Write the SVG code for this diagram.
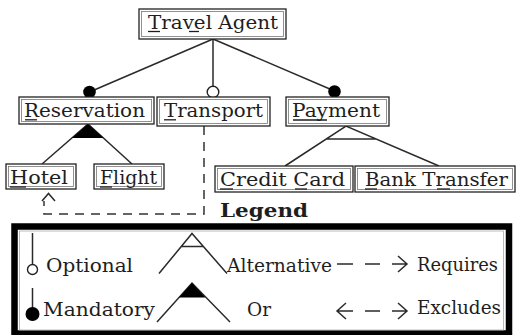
<svg xmlns="http://www.w3.org/2000/svg" width="516" height="335" viewBox="0 0 516 335">
<style>
text{font-family:"DejaVu Serif","Liberation Serif",serif;font-size:19px;fill:#1e1e1e}
.bo{fill:#fff;stroke:#222;stroke-width:1.3}
.bi{fill:none;stroke:#777;stroke-width:0.8}
.ul{stroke:#1e1e1e;stroke-width:1.3}
.ln{stroke:#2a2a2a;stroke-width:1.5;fill:none}
.dash{stroke:#333;stroke-width:1.5;fill:none;stroke-dasharray:9,7}
.blk{fill:#000}
</style>
<rect width="516" height="335" fill="#fff"/>
<g id="connectors">
<line class="ln" x1="213" y1="39" x2="89.5" y2="92"/>
<line class="ln" x1="213" y1="39" x2="213" y2="86"/>
<line class="ln" x1="213" y1="39" x2="334.5" y2="91"/>
<circle cx="89.5" cy="92" r="6.3" class="blk"/>
<circle cx="213" cy="92" r="5.8" fill="#fff" stroke="#222" stroke-width="1.4"/>
<circle cx="334.5" cy="91.5" r="6.3" class="blk"/>
<path class="ln" d="M42,164 L88,124 L132,164"/>
<polygon class="blk" points="88,124 72,138 103.5,138"/>
<path class="ln" d="M285,166 L346,126 L439,166 M326,139 H376"/>
<path class="dash" d="M204,126 V214 H44 V201"/>
<path class="ln" d="M42,201 L48.5,193.5 L55,201"/>
</g>
<g id="travel-agent">
<rect class="bo" x="139" y="9" width="147" height="30"/>
<rect class="bi" x="141.5" y="11.5" width="142" height="25"/>
<text x="148" y="29" textLength="130" lengthAdjust="spacingAndGlyphs">Travel Agent</text>
<line class="ul" x1="148" y1="31.5" x2="160" y2="31.5"/>
<line class="ul" x1="189" y1="31.5" x2="199" y2="31.5"/>
</g>
<g id="reservation">
<rect class="bo" x="19" y="97" width="135" height="27"/>
<rect class="bi" x="21.5" y="99.5" width="130" height="22"/>
<text x="24" y="117" textLength="121" lengthAdjust="spacingAndGlyphs">Reservation</text>
<line class="ul" x1="25" y1="119.8" x2="37" y2="119.8"/>
</g>
<g id="transport">
<rect class="bo" x="157" y="97" width="113" height="29"/>
<rect class="bi" x="159.5" y="99.5" width="108" height="24"/>
<text x="164" y="117" textLength="99" lengthAdjust="spacingAndGlyphs">Transport</text>
<line class="ul" x1="164" y1="119.8" x2="176" y2="119.8"/>
</g>
<g id="payment">
<rect class="bo" x="286" y="97" width="103" height="29"/>
<rect class="bi" x="288.5" y="99.5" width="98" height="24"/>
<text x="292" y="117" textLength="88" lengthAdjust="spacingAndGlyphs">Payment</text>
<line class="ul" x1="293" y1="120" x2="327" y2="120"/>
</g>
<g id="hotel">
<rect class="bo" x="6" y="164" width="70" height="25"/>
<rect class="bi" x="8.5" y="166.5" width="65" height="20"/>
<text x="10" y="184" textLength="58" lengthAdjust="spacingAndGlyphs">Hotel</text>
<line class="ul" x1="10" y1="187" x2="26" y2="187"/>
</g>
<g id="flight">
<rect class="bo" x="94" y="164" width="70" height="25"/>
<rect class="bi" x="96.5" y="166.5" width="65" height="20"/>
<text x="100" y="184" textLength="57" lengthAdjust="spacingAndGlyphs">Flight</text>
<line class="ul" x1="100" y1="187" x2="112" y2="187"/>
</g>
<g id="credit-card">
<rect class="bo" x="215" y="166" width="138" height="26"/>
<rect class="bi" x="217.5" y="168.5" width="133" height="21"/>
<text x="220" y="186" textLength="125" lengthAdjust="spacingAndGlyphs">Credit Card</text>
<line class="ul" x1="220" y1="189" x2="233" y2="189"/>
<line class="ul" x1="295" y1="189" x2="307" y2="189"/>
</g>
<g id="bank-transfer">
<rect class="bo" x="355" y="166" width="160" height="26"/>
<rect class="bi" x="357.5" y="168.5" width="155" height="21"/>
<text x="365" y="186" textLength="143" lengthAdjust="spacingAndGlyphs">Bank Transfer</text>
<line class="ul" x1="365" y1="189" x2="377" y2="189"/>
<line class="ul" x1="437" y1="189" x2="450" y2="189"/>
</g>
<g id="legend">
<text x="220" y="217" font-weight="bold" textLength="88" lengthAdjust="spacingAndGlyphs">Legend</text>
<rect x="14.5" y="226.5" width="494.5" height="107" fill="none" stroke="#000" stroke-width="6.5"/>
<rect x="19.5" y="231" width="484" height="99" fill="none" stroke="#aaa" stroke-width="0.8"/>
<line class="ln" x1="32.5" y1="233" x2="32.5" y2="264"/>
<circle cx="32.5" cy="269.5" r="5" fill="#fff" stroke="#222" stroke-width="1.4"/>
<text x="46" y="272" textLength="87" lengthAdjust="spacingAndGlyphs">Optional</text>
<line class="ln" x1="32.5" y1="288" x2="32.5" y2="308"/>
<circle cx="32.5" cy="314" r="7" class="blk"/>
<text x="43" y="316" textLength="112" lengthAdjust="spacingAndGlyphs">Mandatory</text>
<path class="ln" d="M159,273.5 L192,233.5 L227,273.5 M181,246.5 H203"/>
<text x="227" y="272" textLength="105" lengthAdjust="spacingAndGlyphs">Alternative</text>
<path class="ln" d="M157,322 L192,283 L230,322"/>
<polygon class="blk" points="192,283 179,297.5 205.5,297.5"/>
<text x="247" y="316" textLength="24" lengthAdjust="spacingAndGlyphs">Or</text>
<path class="ln" d="M337,264 H353 M365,264 H380 M392,264 H407 M398,256 L407,264 L398,272"/>
<text x="417" y="271" textLength="81" lengthAdjust="spacingAndGlyphs">Requires</text>
<path class="ln" d="M337,311 H353 M346,303 L337,311 L346,319 M365,311 H380 M392,311 H407 M398,303 L407,311 L398,319"/>
<text x="417" y="314" textLength="84" lengthAdjust="spacingAndGlyphs">Excludes</text>
</g>
</svg>
